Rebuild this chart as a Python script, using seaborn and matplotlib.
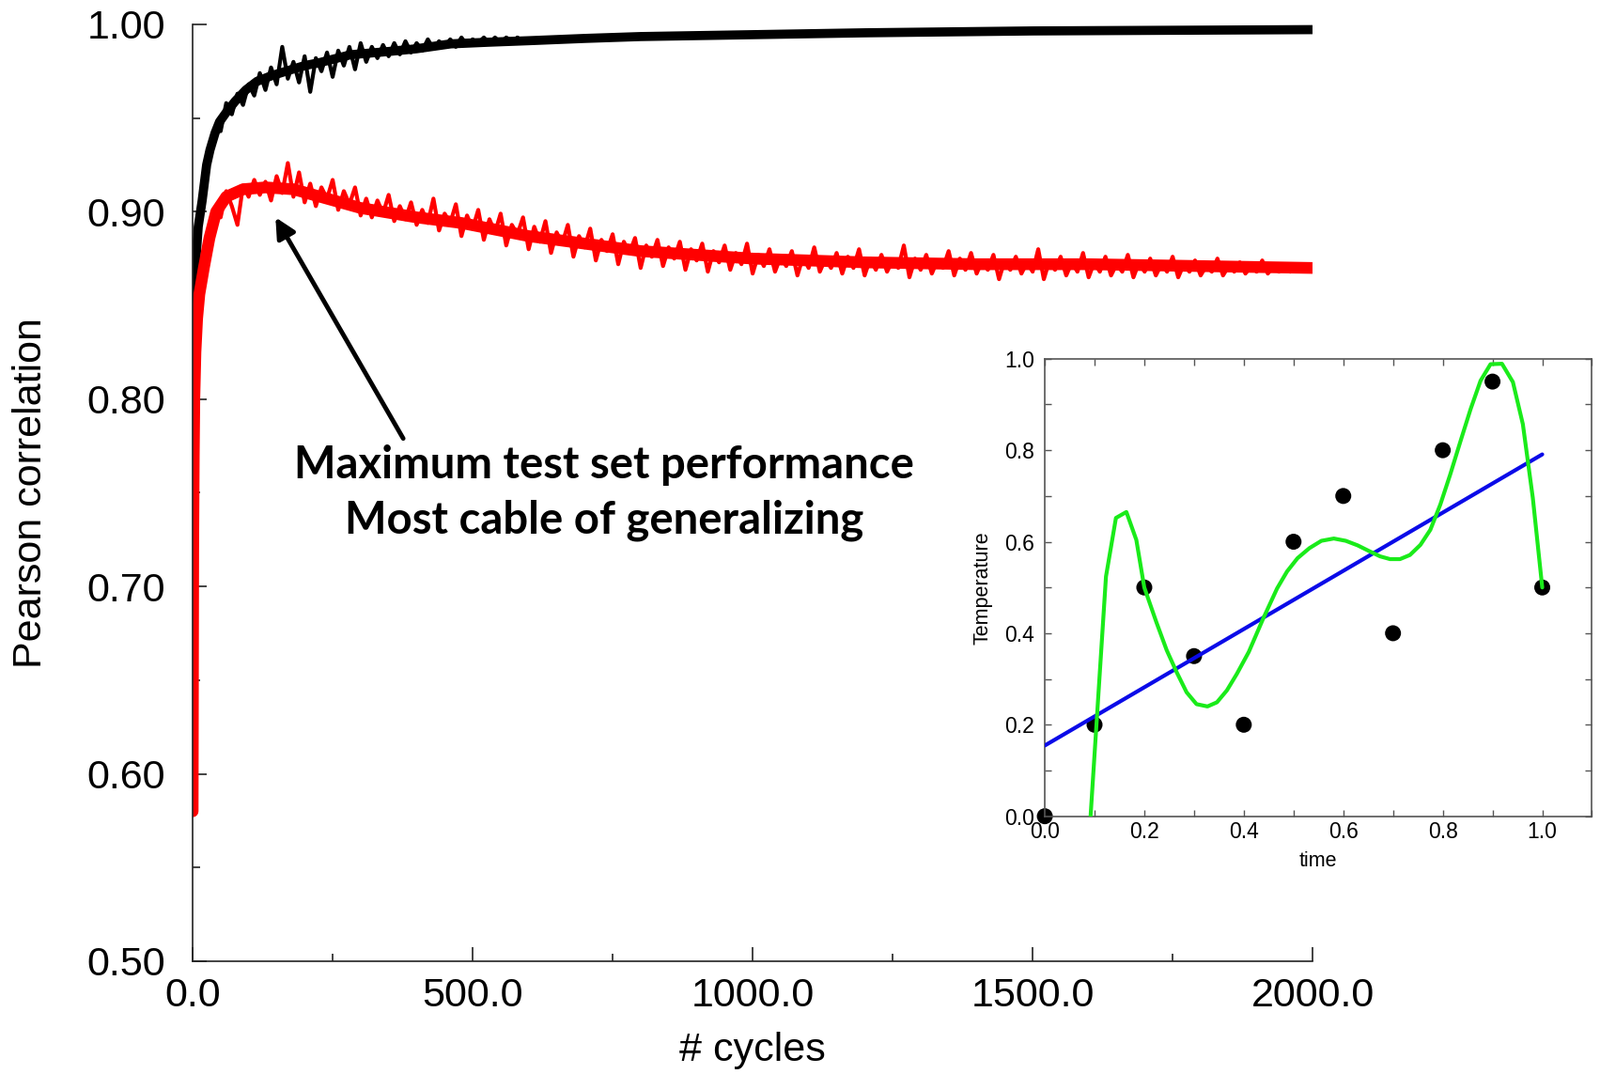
import numpy as np
import matplotlib
matplotlib.use("Agg")
import matplotlib.pyplot as plt
from matplotlib.ticker import MultipleLocator, FormatStrFormatter
import seaborn as sns

# ---- main chart: Pearson correlation vs training cycles ----
# smooth core of each curve
train_core_x = [0, 1, 2, 3, 6, 10, 17, 25, 31, 40, 48, 60, 76, 95, 115, 140, 171, 200,
                227, 282, 349, 400, 461, 530, 601, 700, 800, 1000, 1200, 1500, 2000]
train_core_y = [0.600, 0.760, 0.830, 0.853, 0.875, 0.892, 0.906, 0.925, 0.933, 0.942, 0.948,
                0.953, 0.959, 0.965, 0.9696, 0.9725, 0.9754, 0.978, 0.9796, 0.9838, 0.9855,
                0.987, 0.9896, 0.9905, 0.9913, 0.9925, 0.9935, 0.9945, 0.9955, 0.9965, 0.9972]

test_core_x = [0, 1, 2, 3, 5, 8, 12, 20, 30, 42, 60, 90, 130, 180, 240, 300, 400, 480,
               600, 700, 800, 900, 1000, 1200, 1400, 1600, 1800, 2000]
test_core_y = [0.580, 0.720, 0.770, 0.800, 0.825, 0.843, 0.856, 0.870, 0.886, 0.900, 0.908,
               0.912, 0.913, 0.912, 0.907, 0.902, 0.897, 0.894, 0.887, 0.883, 0.879, 0.877,
               0.875, 0.873, 0.872, 0.872, 0.871, 0.870]

# jitter of the training curve, cycles 40..600 every 10
train_noisy_x = list(range(40, 601, 10))
train_noisy_y = [0.945, 0.943, 0.958, 0.952, 0.963, 0.957, 0.968, 0.962, 0.974, 0.965,
                 0.977, 0.968, 0.988, 0.971, 0.980, 0.969, 0.983, 0.964, 0.982, 0.975,
                 0.985, 0.972, 0.986, 0.978, 0.988, 0.976, 0.990, 0.980, 0.988, 0.982,
                 0.989, 0.983, 0.990, 0.984, 0.991, 0.985, 0.990, 0.986, 0.992, 0.987,
                 0.991, 0.988, 0.992, 0.988, 0.993, 0.989, 0.992, 0.990, 0.993, 0.990,
                 0.993, 0.990, 0.993, 0.991, 0.993, 0.991, 0.992]

# jitter of the test curve, cycles 30..2000 every 10
test_noisy_x = list(range(30, 2001, 10))
test_noisy_y = [0.883, 0.901, 0.897, 0.911, 0.903, 0.893, 0.914, 0.908, 0.917, 0.909,
                0.916, 0.906, 0.919, 0.910, 0.926, 0.908, 0.921, 0.905, 0.915, 0.903,
                0.913, 0.907, 0.917, 0.901, 0.911, 0.904, 0.913, 0.898, 0.907, 0.897,
                0.906, 0.899, 0.909, 0.895, 0.903, 0.896, 0.905, 0.893, 0.901, 0.894,
                0.907, 0.890, 0.899, 0.894, 0.904, 0.887, 0.898, 0.891, 0.901, 0.885,
                0.896, 0.889, 0.899, 0.882, 0.893, 0.888, 0.897, 0.880, 0.892, 0.884,
                0.895, 0.878, 0.889, 0.883, 0.893, 0.876, 0.887, 0.881, 0.891, 0.874,
                0.885, 0.879, 0.888, 0.872, 0.884, 0.878, 0.886, 0.870, 0.882, 0.876,
                0.885, 0.871, 0.881, 0.875, 0.884, 0.869, 0.880, 0.874, 0.883, 0.868,
                0.879, 0.873, 0.882, 0.869, 0.878, 0.872, 0.883, 0.867, 0.877, 0.871,
                0.880, 0.868, 0.876, 0.871, 0.879, 0.866, 0.876, 0.870, 0.881, 0.868,
                0.875, 0.870, 0.878, 0.867, 0.876, 0.870, 0.880, 0.866, 0.875, 0.869,
                0.877, 0.868, 0.874, 0.870, 0.882, 0.865, 0.875, 0.869, 0.877, 0.867,
                0.874, 0.870, 0.879, 0.866, 0.875, 0.869, 0.878, 0.867, 0.874, 0.869,
                0.877, 0.864, 0.874, 0.869, 0.876, 0.867, 0.873, 0.868, 0.880, 0.864,
                0.874, 0.869, 0.876, 0.866, 0.873, 0.868, 0.878, 0.865, 0.873, 0.868,
                0.876, 0.866, 0.872, 0.868, 0.877, 0.865, 0.873, 0.868, 0.875, 0.866,
                0.872, 0.868, 0.876, 0.865, 0.872, 0.868, 0.874, 0.866, 0.871, 0.868,
                0.875, 0.866, 0.871, 0.868, 0.873, 0.867, 0.871, 0.868, 0.874, 0.867,
                0.871, 0.868, 0.872, 0.868, 0.871, 0.869, 0.871, 0.870]

x_ticks = [0, 500, 1000, 1500, 2000]
y_ticks = [0.50, 0.60, 0.70, 0.80, 0.90, 1.00]

# ---- inset: overfitting toy example ----
inset_time = [0.0, 0.1, 0.2, 0.3, 0.4, 0.5, 0.6, 0.7, 0.8, 0.9, 1.0]
inset_temp = [0.0, 0.2, 0.5, 0.35, 0.2, 0.6, 0.7, 0.4, 0.8, 0.95, 0.5]
# high-order fit
fit_x = [0.092, 0.123, 0.143, 0.164, 0.184, 0.200, 0.224, 0.245, 0.265, 0.285, 0.305,
         0.327, 0.346, 0.366, 0.386, 0.410, 0.439, 0.467, 0.487, 0.508, 0.532, 0.556,
         0.581, 0.605, 0.629, 0.653, 0.674, 0.694, 0.714, 0.734, 0.755, 0.775, 0.795,
         0.815, 0.836, 0.856, 0.876, 0.896, 0.919, 0.941, 0.961, 0.981, 1.000]
fit_y = [0.000, 0.524, 0.652, 0.665, 0.604, 0.500, 0.425, 0.363, 0.315, 0.271, 0.245,
         0.240, 0.249, 0.275, 0.311, 0.359, 0.432, 0.498, 0.535, 0.564, 0.586, 0.602,
         0.607, 0.602, 0.592, 0.579, 0.568, 0.562, 0.562, 0.571, 0.593, 0.626, 0.681,
         0.747, 0.821, 0.890, 0.952, 0.988, 0.989, 0.949, 0.857, 0.696, 0.500]

sns.set_theme(style="ticks")
plt.rcParams["font.family"] = ["Liberation Sans", "DejaVu Sans"]
plt.rcParams["text.color"] = "black"
plt.rcParams["axes.labelcolor"] = "black"

fig = plt.figure(figsize=(17.03, 11.43), dpi=100)
ax = fig.add_axes([0.1204, 0.1050, 0.7000, 0.8723])

sns.lineplot(x=train_core_x, y=train_core_y, ax=ax, color="black", lw=7,
             estimator=None, solid_capstyle="round")
sns.lineplot(x=train_noisy_x, y=train_noisy_y, ax=ax, color="black", lw=3,
             estimator=None)
sns.lineplot(x=test_core_x, y=test_core_y, ax=ax, color="#ff0000", lw=9,
             estimator=None, solid_capstyle="round")
sns.lineplot(x=test_noisy_x, y=test_noisy_y, ax=ax, color="#ff0000", lw=3,
             estimator=None)

ax.set_xlim(0, 2000)
ax.set_ylim(0.5, 1.0)
ax.set_xticks(x_ticks)
ax.set_yticks(y_ticks)
ax.xaxis.set_minor_locator(MultipleLocator(250))
ax.yaxis.set_minor_locator(MultipleLocator(0.05))
ax.xaxis.set_major_formatter(FormatStrFormatter("%.1f"))
ax.yaxis.set_major_formatter(FormatStrFormatter("%.2f"))
for s in ["top", "right"]:
    ax.spines[s].set_visible(False)
for s in ["left", "bottom"]:
    ax.spines[s].set_color("#222222")
    ax.spines[s].set_linewidth(1.2)
ax.tick_params(axis="both", which="major", direction="in", length=11, width=1.2,
               color="#222222", labelsize=31, labelcolor="black")
ax.tick_params(axis="both", which="minor", direction="in", length=5.5, width=1.2,
               color="#222222")
ax.tick_params(axis="y", which="major", pad=21)
ax.tick_params(axis="x", which="major", pad=12)
ax.set_xlabel("# cycles", fontsize=31, va="center", color="black")
ax.set_ylabel("Pearson correlation", fontsize=31, va="center", color="black")
ax.xaxis.set_label_coords(0.5, -0.0953)
ax.yaxis.set_label_coords(-0.1443, 0.5)

ax.annotate("", xy=(148, 0.897), xytext=(376, 0.779),
            arrowprops=dict(arrowstyle="-|>", color="black", lw=3.5,
                            mutation_scale=32, shrinkA=0, shrinkB=0))
ax.text(735, 0.750, "Maximum test set performance\nMost cable of generalizing",
        ha="center", va="center", fontsize=34, fontweight="bold", color="black",
        family=["Lato", "DejaVu Sans"], linespacing=1.42)

# inset
axi = fig.add_axes([0.653, 0.240, 0.342, 0.426])
axi.set_zorder(5)
axi.set_facecolor("white")
sns.scatterplot(x=inset_time, y=inset_temp, ax=axi, color="black", s=150,
                edgecolor="none", clip_on=False, zorder=2)
sns.regplot(x=inset_time, y=inset_temp, ax=axi, ci=None, scatter=False,
            color="#0b0be8", line_kws=dict(lw=3, zorder=3))
sns.lineplot(x=fit_x, y=fit_y, ax=axi, color="#1aeb1a", lw=3, estimator=None, zorder=4)
axi.set_xlim(0, 1.1)
axi.set_ylim(0, 1.0)
axi.set_xticks([0.0, 0.2, 0.4, 0.6, 0.8, 1.0])
axi.set_yticks([0.0, 0.2, 0.4, 0.6, 0.8, 1.0])
axi.xaxis.set_minor_locator(MultipleLocator(0.1))
axi.yaxis.set_minor_locator(MultipleLocator(0.1))
axi.xaxis.set_major_formatter(FormatStrFormatter("%.1f"))
axi.yaxis.set_major_formatter(FormatStrFormatter("%.1f"))
for s in axi.spines.values():
    s.set_color("#555555")
    s.set_linewidth(1.2)
axi.tick_params(axis="both", which="both", direction="in", length=5, width=1,
                color="#555555", top=True, right=True, labelsize=16.5,
                labelcolor="black")
axi.tick_params(axis="x", which="major", pad=4)
axi.tick_params(axis="y", which="major", pad=8)
axi.set_xlabel("time", fontsize=15.5)
axi.set_ylabel("Temperature", fontsize=15.5)
axi.xaxis.set_label_coords(0.5, -0.099)
axi.yaxis.set_label_coords(-0.113, 0.5)
axi.xaxis.label.set_va("center")
axi.yaxis.label.set_va("center")

fig.savefig("out.png", dpi=100)
